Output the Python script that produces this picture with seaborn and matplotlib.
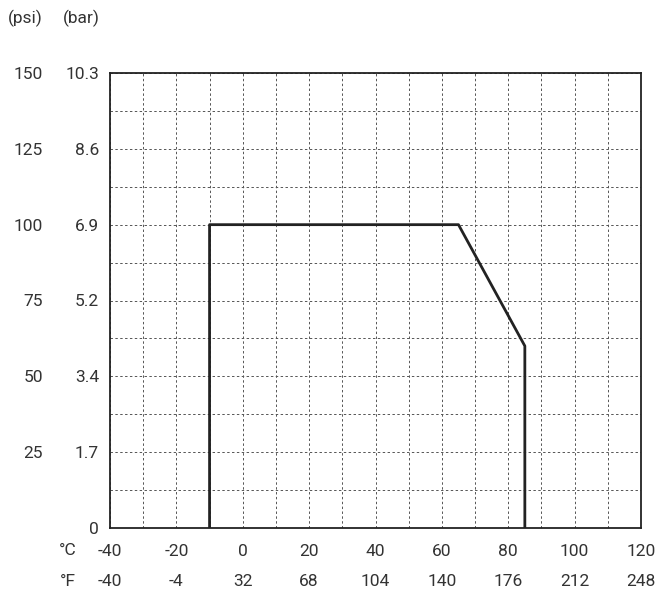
"""Pressure-temperature rating chart (psi / bar vs. °C / °F)."""

import matplotlib

matplotlib.use("Agg")
import matplotlib.pyplot as plt
import numpy as np
import pandas as pd
import seaborn as sns
from matplotlib.ticker import FixedLocator, MultipleLocator

# ── Data ─────────────────────────────────────────────────────────────────────
temp_c = [-10, -10, 65, 85, 85]
pressure_psi = [0, 100, 100, 60, 0]

c_ticks = [-40, -20, 0, 20, 40, 60, 80, 100, 120]
f_labels = ["-40", "-4", "32", "68", "104", "140", "176", "212", "248"]
psi_ticks = [0, 25, 50, 75, 100, 125, 150]
bar_labels = ["0", "1.7", "3.4", "5.2", "6.9", "8.6", "10.3"]
psi_labels = ["", "25", "50", "75", "100", "125", "150"]

# ── Style ────────────────────────────────────────────────────────────────────
sns.set_theme(style="white")
plt.rcParams["font.family"] = ["Roboto", "DejaVu Sans"]
TEXT = "#333333"
FS = 12.5
DPI = 100

fig = plt.figure(figsize=(6.68, 5.96), dpi=DPI)
ax = fig.add_axes([110 / 668, 1 - 528 / 596, 531 / 668, 455 / 596])

df = pd.DataFrame({"temp": temp_c, "psi": pressure_psi})
sns.lineplot(
    data=df, x="temp", y="psi", sort=False, estimator=None,
    color="#222222", linewidth=2.0, ax=ax, zorder=3,
)

ax.set_xlim(-40, 120)
ax.set_ylim(0, 150)
ax.xaxis.set_major_locator(FixedLocator(c_ticks))
ax.xaxis.set_minor_locator(MultipleLocator(10))
ax.yaxis.set_major_locator(FixedLocator(psi_ticks))
ax.yaxis.set_minor_locator(MultipleLocator(12.5))
ax.grid(which="both", color="#555555", linewidth=0.7, linestyle=(0, (2.5, 2.5)))

for sp in ax.spines.values():
    sp.set_color("#222222")
    sp.set_linewidth(1.3)

px = 72 / DPI  # one pixel in points

# bar labels (primary y)
ax.set_yticklabels(bar_labels)
ax.tick_params(axis="y", which="both", length=0, pad=11 * px,
               labelsize=FS, labelcolor=TEXT)

# psi labels (secondary y on the left)
sec_y = ax.secondary_yaxis("left")
sec_y.set_yticks(psi_ticks)
sec_y.set_yticklabels(psi_labels)
sec_y.spines["left"].set_visible(False)
sec_y.tick_params(length=0, pad=67 * px, labelsize=FS, labelcolor=TEXT)

# °C labels (primary x)
ax.set_xticklabels([str(t) for t in c_ticks])
ax.set_xlabel("")
ax.set_ylabel("")
ax.tick_params(axis="x", which="both", length=0, pad=16 * px,
               labelsize=FS, labelcolor=TEXT)

# °F labels (secondary x below)
sec_x = ax.secondary_xaxis(
    "bottom", functions=(lambda c: c * 1.8 + 32, lambda f: (f - 32) / 1.8)
)
sec_x.set_xticks([t * 1.8 + 32 for t in c_ticks])
sec_x.set_xticklabels(f_labels)
sec_x.spines["bottom"].set_visible(False)
sec_x.tick_params(length=0, pad=46 * px, labelsize=FS, labelcolor=TEXT)

# unit captions
fig.text(68 / 668, 1 - 555 / 596, "°C", ha="center", va="baseline",
         fontsize=FS, color=TEXT)
fig.text(68 / 668, 1 - 586 / 596, "°F", ha="center", va="baseline",
         fontsize=FS, color=TEXT)
fig.text(43 / 668, 1 - 18 / 596, "(psi)", ha="right", va="center",
         fontsize=FS, color=TEXT)
fig.text(100 / 668, 1 - 18 / 596, "(bar)", ha="right", va="center",
         fontsize=FS, color=TEXT)

fig.savefig("out.png", dpi=DPI)
